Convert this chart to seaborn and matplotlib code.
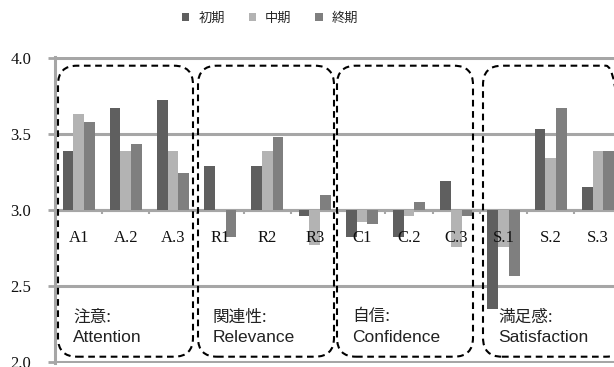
import matplotlib
matplotlib.use("Agg")
import matplotlib.pyplot as plt
import seaborn as sns
import pandas as pd
from matplotlib.patches import FancyBboxPatch
from matplotlib.ticker import FuncFormatter, FixedLocator

categories = ['A1', 'A.2', 'A.3', 'R1', 'R2', 'R3', 'C1', 'C.2', 'C.3', 'S.1', 'S.2', 'S.3']
phases = ['初期', '中期', '終期']
early = [3.39, 3.67, 3.72, 3.29, 3.29, 2.96, 2.82, 2.82, 3.19, 2.35, 3.53, 3.15]
middle = [3.63, 3.39, 3.39, 3.00, 3.39, 2.77, 2.92, 2.96, 2.76, 2.76, 3.34, 3.39]
late = [3.58, 3.43, 3.24, 2.82, 3.48, 3.10, 2.91, 3.05, 2.96, 2.57, 3.67, 3.39]
baseline = 3.0
y_ticks = [2.0, 2.5, 3.0, 3.5, 4.0]
groups = [('注意:', 'Attention'), ('関連性:', 'Relevance'),
          ('自信:', 'Confidence'), ('満足感:', 'Satisfaction')]
colors = ['#5f5f5f', '#b3b3b3', '#7f7f7f']

rows = []
for ph, vals in zip(phases, [early, middle, late]):
    for c, v in zip(categories, vals):
        rows.append({'cat': c, 'phase': ph, 'delta': v - baseline})
df = pd.DataFrame(rows)

sns.set_theme(style='white')
plt.rcParams['font.family'] = ['Liberation Serif', 'Noto Sans CJK JP']

W, H = 614, 367
fig = plt.figure(figsize=(W / 100, H / 100), dpi=100)
ax = fig.add_axes([55 / W, 1 - 363 / H, (621.5 - 55) / W, (363 - 57) / H])

sns.barplot(data=df, x='cat', y='delta', hue='phase', order=categories,
            hue_order=phases, palette=colors, saturation=1, width=0.68,
            errorbar=None, ax=ax, legend=True, zorder=3, linewidth=0)

ax.set_xlim(-0.5, len(categories) - 0.5)
ax.set_ylim(-1.004, 1.004)
ax.set_xlabel('')
ax.set_ylabel('')

grid_col = '#a6a6a6'
ax.yaxis.set_major_locator(FixedLocator([t - baseline for t in y_ticks]))
ax.yaxis.set_major_formatter(FuncFormatter(lambda y, p: f"{y + baseline:.1f}"))
ax.yaxis.grid(True, color=grid_col, linewidth=2.2, zorder=0)
ax.set_axisbelow(True)
for s in ['top', 'right']:
    ax.spines[s].set_visible(False)
ax.spines['left'].set_color(grid_col)
ax.spines['left'].set_linewidth(2.2)
ax.spines['bottom'].set_position(('data', 0))
ax.spines['bottom'].set_color(grid_col)
ax.spines['bottom'].set_linewidth(2.2)
ax.tick_params(axis='y', which='both', left=True, length=5, width=2, color=grid_col,
               labelsize=12, pad=12, labelcolor='#111111')
ax.set_xticks([i + 0.5 for i in range(len(categories) - 1)])
ax.set_xticklabels([])
ax.tick_params(axis='x', bottom=True, length=3, width=1.5, color=grid_col, direction='out')

for i, c in enumerate(categories):
    ax.text(i, -0.185, c, ha='center', va='center',
            fontsize=12, color='#111111', family='Liberation Serif', zorder=5)

# legend
handles, labels = ax.get_legend_handles_labels()
ax.legend_.remove()
fig.legend(handles, labels, loc='center', bbox_to_anchor=(0.44, 1 - 18 / H),
           ncol=3, frameon=False, handlelength=0.55, handleheight=0.55,
           handletextpad=0.7, columnspacing=1.8,
           prop={'family': 'Noto Sans CJK JP', 'size': 9.5})

# dashed rounded boxes (pixel coordinates)
box_x = [(58, 193), (198, 334), (337, 473), (483, 625)]
top_px, bot_px = 65.7, 356.7
for (x0, x1), (jp, en) in zip(box_x, groups):
    p = FancyBboxPatch((x0 / 100, (H - bot_px) / 100), (x1 - x0) / 100,
                       (bot_px - top_px) / 100,
                       boxstyle='round,pad=0,rounding_size=0.19',
                       transform=fig.dpi_scale_trans, fill=False,
                       edgecolor='black', linewidth=1.5, linestyle=(0, (3.2, 2.2)),
                       zorder=6)
    fig.add_artist(p)
    fig.text((x0 + 15) / W, 1 - 317 / H, jp, ha='left', va='center',
             fontsize=12, color='#222222', family=['Noto Sans CJK JP'])
    fig.text((x0 + 15) / W, 1 - 337 / H, en, ha='left', va='center',
             fontsize=12.5, color='#222222', family=['Liberation Sans', 'Noto Sans CJK JP'])

fig.savefig('out.png', dpi=100)
